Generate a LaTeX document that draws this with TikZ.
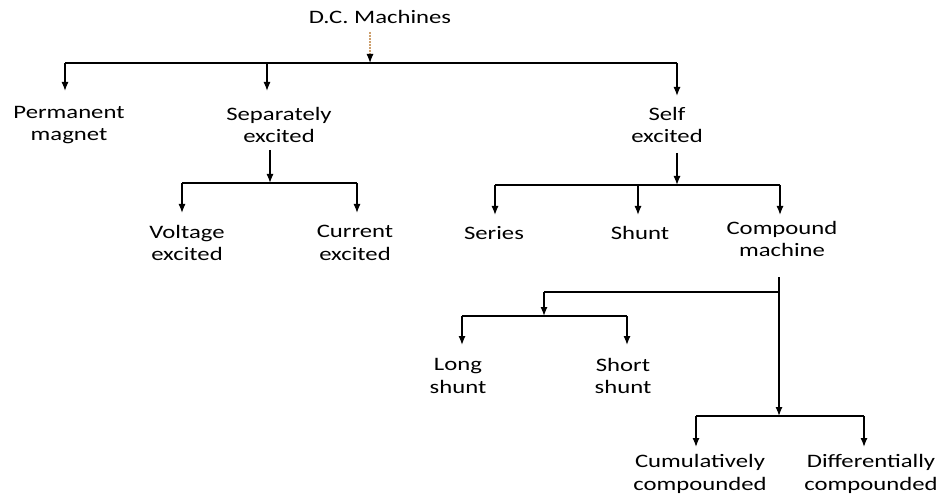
\documentclass[tikz,border=0pt]{standalone}
\usepackage{fontspec}
\setmainfont{Carlito}[FakeStretch=1.3]
\usetikzlibrary{arrows.meta}
\begin{document}
\begin{tikzpicture}[x=1pt,y=-1pt,
  lbl/.style={align=center,inner sep=0pt,font=\fontsize{19}{22.5}\selectfont},
  ln/.style={line width=1.3pt,black},
  arr/.style={line width=1.3pt,black,-{Latex[length=9pt,width=7pt]}},
  faint/.style={line width=1.2pt,draw={rgb,255:red,205;green,160;blue,110},dash pattern=on 2pt off 1pt,-{Latex[length=9pt,width=7pt,black,fill=black]}}]
\useasboundingbox (0,0) rectangle (945,497);
% nodes
\node[lbl] (dc) at (380,17) {D.C. Machines};
\node[lbl] (pm) at (69,125) {Permanent\\magnet};
\node[lbl] (sep) at (279,125) {Separately\\excited};
\node[lbl] (self) at (667,125) {Self\\excited};
\node[lbl] (volt) at (187,243) {Voltage\\excited};
\node[lbl] (curr) at (355,243) {Current\\excited};
\node[lbl] (ser) at (494,233) {Series};
\node[lbl] (shu) at (640,233) {Shunt};
\node[lbl] (comp) at (782,239) {Compound\\machine};
\node[lbl] (long) at (458,376) {Long\\shunt};
\node[lbl] (short) at (623,376) {Short\\shunt};
\node[lbl] (cum) at (700,474) {Cumulatively\\compounded};
\node[lbl] (diff) at (871,474) {Differentially\\compounded};
% junction coordinates
\coordinate (dcs) at (370,32);
\coordinate (b1m) at (370,63);
\coordinate (b1l) at (65,63);
\coordinate (b1r) at (677,63);
\coordinate (b1s) at (267,63);
\coordinate (pmt) at (65,91);
\coordinate (sept) at (267,91);
\coordinate (selft) at (677,96);
\coordinate (seps) at (270,150);
\coordinate (b2m) at (270,183);
\coordinate (b2l) at (182,183);
\coordinate (b2r) at (357,183);
\coordinate (voltt) at (182,213);
\coordinate (currt) at (357,213);
\coordinate (selfs) at (677,153);
\coordinate (b3m) at (677,185);
\coordinate (b3l) at (495,185);
\coordinate (b3c) at (638,185);
\coordinate (b3r) at (780,185);
\coordinate (sert) at (495,215);
\coordinate (shut) at (638,215);
\coordinate (compt) at (780,215);
\coordinate (comps) at (779,277);
\coordinate (b4r) at (779,292);
\coordinate (b4l) at (544,292);
\coordinate (b5m) at (544,316);
\coordinate (b5l) at (462,316);
\coordinate (b5r) at (627,316);
\coordinate (longt) at (462,345);
\coordinate (shortt) at (627,345);
\coordinate (b6m) at (779,416);
\coordinate (b6l) at (696,416);
\coordinate (b6r) at (864,416);
\coordinate (cumt) at (696,447);
\coordinate (difft) at (864,447);
% connectors
\draw[faint] (dcs) -- (b1m);
\draw[ln] (b1l) -- (b1r);
\draw[arr] (b1l) -- (pmt);
\draw[arr] (b1s) -- (sept);
\draw[arr] (b1r) -- (selft);
\draw[arr] (seps) -- (b2m);
\draw[ln] (b2l) -- (b2r);
\draw[arr] (b2l) -- (voltt);
\draw[arr] (b2r) -- (currt);
\draw[arr] (selfs) -- (b3m);
\draw[ln] (b3l) -- (b3r);
\draw[arr] (b3l) -- (sert);
\draw[arr] (b3c) -- (shut);
\draw[arr] (b3r) -- (compt);
\draw[ln] (comps) -- (b4r) -- (b4l);
\draw[arr] (b4l) -- (b5m);
\draw[ln] (b5l) -- (b5r);
\draw[arr] (b5l) -- (longt);
\draw[arr] (b5r) -- (shortt);
\draw[arr] (b4r) -- (b6m);
\draw[ln] (b6l) -- (b6r);
\draw[arr] (b6l) -- (cumt);
\draw[arr] (b6r) -- (difft);
\end{tikzpicture}
\end{document}
